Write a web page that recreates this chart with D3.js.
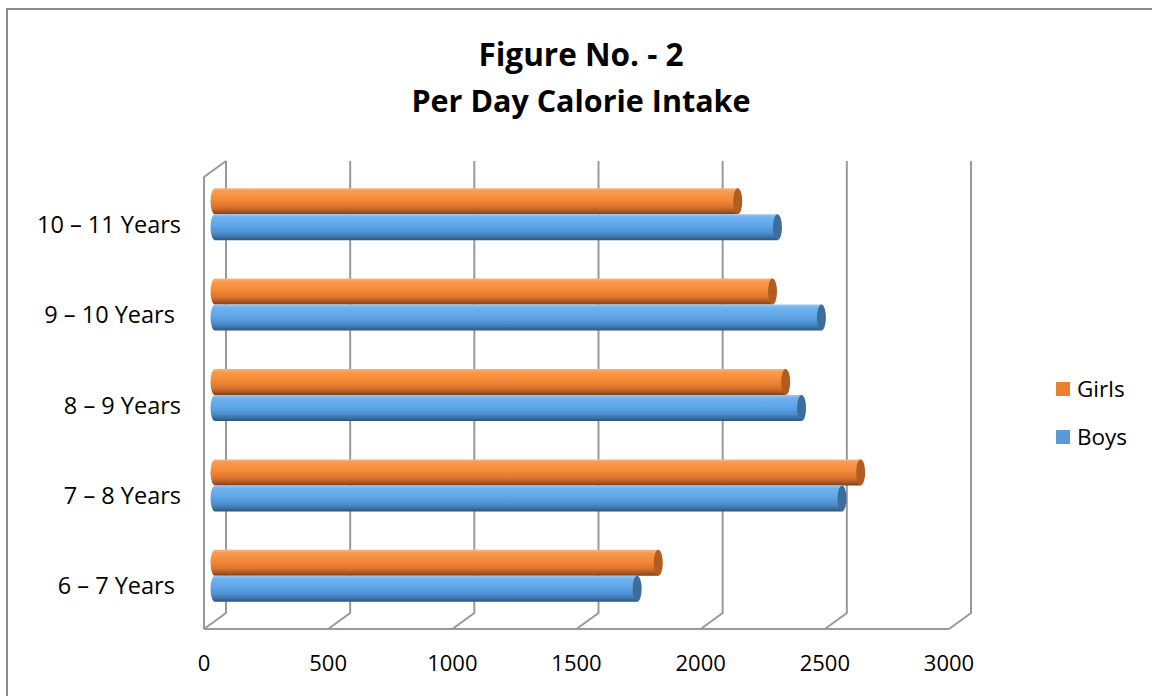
<!DOCTYPE html>
<html>
<head>
<meta charset="utf-8">
<script src="https://cdn.jsdelivr.net/npm/d3@7"></script>
<style>
  html, body { margin: 0; padding: 0; background: #fff; }
  svg { display: block; font-family: "Open Sans", "DejaVu Sans", sans-serif; }
</style>
</head>
<body>
<svg id="chart" width="1152" height="696"></svg>
<script>
// Per day calorie intake by age group
const categories = ["10 – 11 Years", "9 – 10 Years ", "8 – 9 Years", "7 – 8 Years", "6 – 7 Years "];
const seriesNames = ["Girls", "Boys"];
const girls = [2105, 2245, 2298, 2600, 1785];
const boys  = [2265, 2442, 2362, 2525, 1700];
const ticks = [0, 500, 1000, 1500, 2000, 2500, 3000];
const titleLines = ["Figure No. - 2", "Per Day Calorie Intake"];

const svg = d3.select("#chart");

// outer frame
svg.append("rect")
  .attr("x", 7).attr("y", 9).attr("width", 1160).attr("height", 700)
  .attr("fill", "#fff").attr("stroke", "#8c8c8c").attr("stroke-width", 2);

// 3-D projection: front plane + depth offset
const depth = { dx: 22, dy: -16 };
const x = d3.scaleLinear().domain([0, 3000]).range([204, 949]);
const y = d3.scaleBand().domain(categories).range([177, 629]);
const yIn = d3.scaleBand().domain(seriesNames).range([0, y.bandwidth()]).paddingOuter(0.74).paddingInner(0);

const gridColor = "#999999";
const grid = svg.append("g").attr("stroke", gridColor).attr("stroke-width", 2).attr("fill", "none");
const backTop = y.range()[0] + depth.dy;
const backBottom = y.range()[1] + depth.dy;
const front0 = x(0), frontBottom = y.range()[1];

// side wall
grid.append("path").attr("d", d3.line()([
  [front0, frontBottom], [front0, y.range()[0]], [front0 + depth.dx, backTop]
]));
// back wall gridlines and floor diagonals
ticks.forEach(t => {
  grid.append("path").attr("d", d3.line()([
    [x(t) + depth.dx, backTop], [x(t) + depth.dx, backBottom], [x(t), frontBottom]
  ]));
});
// floor front edge
grid.append("path").attr("d", d3.line()([[x(0), frontBottom], [x(3000), frontBottom]]));

// tick labels
svg.append("g").selectAll("text").data(ticks).join("text")
  .attr("x", d => x(d)).attr("y", 671)
  .attr("text-anchor", "middle")
  .attr("font-size", 22).attr("fill", "#000")
  .text(d => d);

// category labels
svg.append("g").selectAll("text").data(categories).join("text")
  .attr("x", 181).attr("y", d => y(d) + y.bandwidth() / 2 + 10.5)
  .attr("text-anchor", "end")
  .attr("font-size", 23.5).attr("fill", "#000")
  .style("white-space", "pre")
  .text(d => d);

// cylinder gradients
const defs = svg.append("defs");
const palette = {
  Girls: { stops: ["#f7b283", "#f99a4c", "#f28a36", "#dc7330", "#a8561f", "#7d3f15"], cap: "#b15d22" },
  Boys:  { stops: ["#9cc7f0", "#6fb2ef", "#5ea6e8", "#4d8fcf", "#3a6c9e", "#2c5479"], cap: "#3d6d9c" }
};
const offs = [0, 0.12, 0.45, 0.72, 0.9, 1];
seriesNames.forEach(s => {
  const g = defs.append("linearGradient").attr("id", "grad-" + s)
    .attr("x1", 0).attr("y1", 0).attr("x2", 0).attr("y2", 1);
  palette[s].stops.forEach((c, i) => g.append("stop").attr("offset", offs[i]).attr("stop-color", c));
});

// bars drawn at mid depth
const mid = { dx: depth.dx / 2, dy: depth.dy / 2 };
const rx = 4.5;
const rows = [];
categories.forEach((c, i) => {
  rows.push({ cat: c, series: "Girls", value: girls[i] });
  rows.push({ cat: c, series: "Boys", value: boys[i] });
});

const bars = svg.append("g").selectAll("g").data(rows).join("g");
bars.append("path")
  .attr("fill", d => `url(#grad-${d.series})`)
  .attr("d", d => {
    const x0 = x(0) + mid.dx, x1 = x(d.value) + mid.dx;
    const y0 = y(d.cat) + yIn(d.series) + mid.dy, h = yIn.bandwidth();
    const ry = h / 2;
    return `M${x0},${y0} L${x1},${y0} L${x1},${y0 + h} L${x0},${y0 + h}` +
           ` A${rx},${ry} 0 0 1 ${x0},${y0} Z`;
  });
bars.append("ellipse")
  .attr("cx", d => x(d.value) + mid.dx)
  .attr("cy", d => y(d.cat) + yIn(d.series) + mid.dy + yIn.bandwidth() / 2)
  .attr("rx", rx).attr("ry", yIn.bandwidth() / 2)
  .attr("fill", d => palette[d.series].cap);

// title
svg.append("g").selectAll("text").data(titleLines).join("text")
  .attr("x", 581).attr("y", (d, i) => 66 + i * 46)
  .attr("text-anchor", "middle")
  .attr("font-size", (d, i) => i === 0 ? 31.5 : 30.5)
  .attr("font-weight", "bold").attr("fill", "#000")
  .text(d => d);

// legend
const legend = svg.append("g").selectAll("g").data(seriesNames).join("g")
  .attr("transform", (d, i) => `translate(1056, ${382 + i * 48})`);
legend.append("rect").attr("width", 14).attr("height", 14)
  .attr("fill", d => d === "Girls" ? "#ed7d31" : "#5b9bd5");
legend.append("text").attr("x", 21).attr("y", 14.5)
  .attr("font-size", 22.5).attr("fill", "#000")
  .text(d => d);
</script>
</body>
</html>
